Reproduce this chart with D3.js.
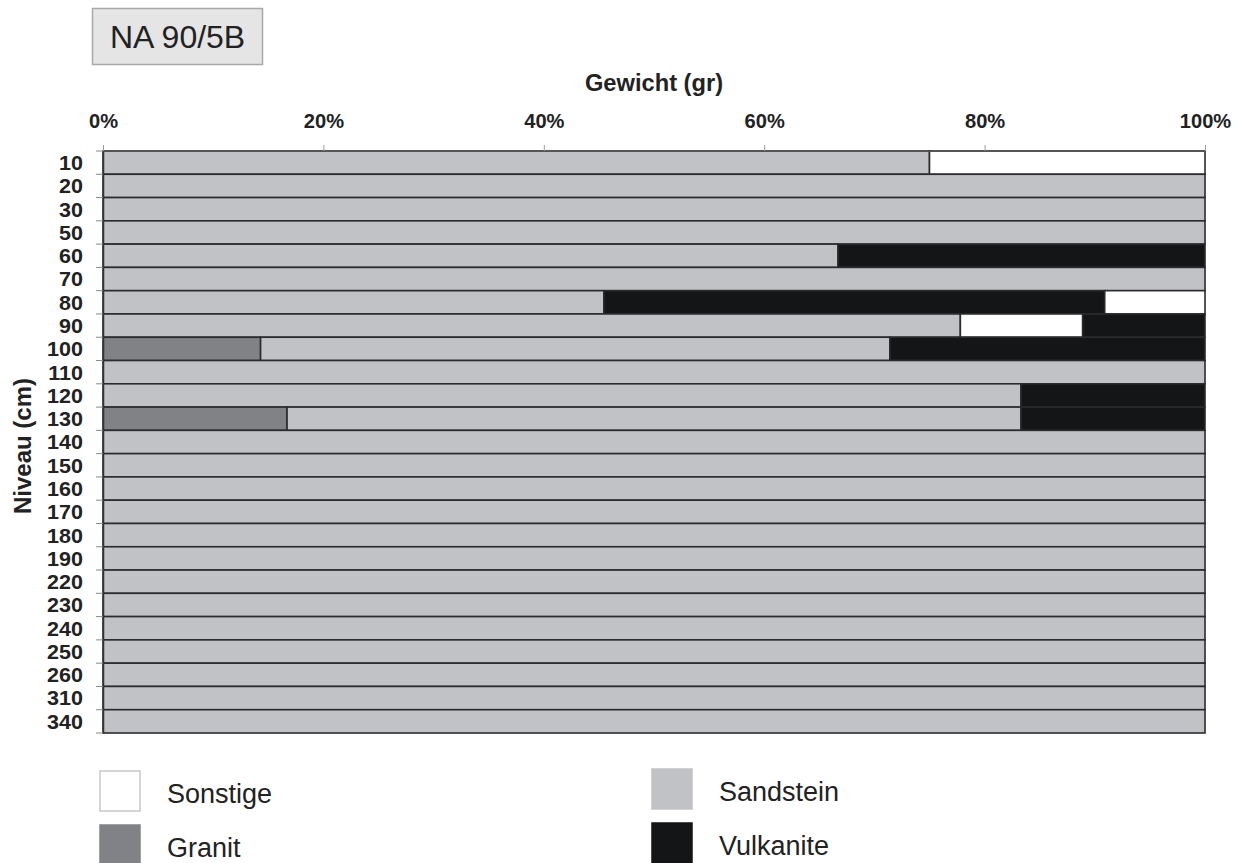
<!DOCTYPE html>
<html><head><meta charset="utf-8">
<script src="https://cdn.jsdelivr.net/npm/d3@7"></script>
<style>body{margin:0;background:#fff;} svg{display:block;font-family:"Liberation Sans",Arial,sans-serif;}</style>
</head><body>
<svg id="c" width="1247" height="863"></svg>
<script>
const levels = ["10","20","30","50","60","70","80","90","100","110","120","130","140","150","160","170","180","190","220","230","240","250","260","310","340"];
const granit    = [0,0,0,0,0,0,0,0,14.3,0,0,16.7,0,0,0,0,0,0,0,0,0,0,0,0,0];
const sandstein = [75,100,100,100,66.7,100,45.45,77.8,57.1,100,83.3,66.6,100,100,100,100,100,100,100,100,100,100,100,100,100];
const vulkanite = [0,0,0,0,33.3,0,45.45,11.1,28.6,0,16.7,16.7,0,0,0,0,0,0,0,0,0,0,0,0,0];
const sonstige  = [25,0,0,0,0,0,9.1,11.1,0,0,0,0,0,0,0,0,0,0,0,0,0,0,0,0,0];
// order of segments from left to right for each level (default unless listed)
const defaultOrder = ["Granit","Sandstein","Vulkanite","Sonstige"];
const specialOrder = {"90":["Granit","Sandstein","Sonstige","Vulkanite"]};
const xTicks = [0,20,40,60,80,100];
const legendItems = ["Sonstige","Granit","Sandstein","Vulkanite"];
const colors = {Granit:"#818285",Sandstein:"#c1c2c5",Vulkanite:"#141517",Sonstige:"#ffffff"};
const seriesData = {Granit:granit,Sandstein:sandstein,Vulkanite:vulkanite,Sonstige:sonstige};

const svg = d3.select("#c");
const m = {left:103,right:1205,top:151,bottom:733};
const x = d3.scaleLinear().domain([0,100]).range([m.left,m.right]);
const y = d3.scaleBand().domain(levels).range([m.top,m.bottom]).padding(0);
const SX = 1.05; // slight horizontal stretch of bold labels

// title box
svg.append("rect").attr("x",92.5).attr("y",8.5).attr("width",170).attr("height",56)
  .attr("fill","#e5e5e5").attr("stroke","#a9a9a9").attr("stroke-width",1.5);
svg.append("text").attr("x",110).attr("y",48).attr("font-size",32).attr("fill","#222").text("NA 90/5B");

// segments
const segs = [];
levels.forEach((lv,i)=>{
  const order = specialOrder[lv] || defaultOrder;
  let acc = 0;
  order.forEach(k=>{
    const v = seriesData[k][i];
    if(v>0){ segs.push({lv,k,x0:acc,x1:acc+v}); acc+=v; }
  });
});
svg.append("g").selectAll("rect").data(segs).join("rect")
  .attr("x",d=>x(d.x0)).attr("y",d=>y(d.lv))
  .attr("width",d=>x(d.x1)-x(d.x0)).attr("height",y.bandwidth())
  .attr("fill",d=>colors[d.k]).attr("stroke","#2a2b2d").attr("stroke-width",1.6);

// top axis
const xa = svg.append("g").attr("transform",`translate(0,${m.top})`)
  .call(d3.axisTop(x).tickValues(xTicks).tickFormat(d=>d+"%").tickSize(6).tickPadding(17));
xa.select(".domain").attr("stroke","#555").attr("stroke-width",1);
xa.selectAll(".tick line").attr("stroke","#999");
xa.selectAll("text").attr("font-size",19.5).attr("font-weight","bold").attr("fill","#222")
  .attr("font-family","Liberation Sans, Arial, sans-serif").attr("transform",`scale(1.03,1)`);
svg.append("text").attr("transform",`translate(${x(50)},91) scale(1.03,1)`).attr("text-anchor","middle")
  .attr("font-size",23).attr("font-weight","bold").attr("fill","#222").text("Gewicht (gr)");

// left axis
const ya = svg.append("g").attr("transform",`translate(${m.left},0)`)
  .call(d3.axisLeft(y).tickSize(0).tickPadding(20));
ya.select(".domain").attr("stroke","#333").attr("stroke-width",1.5);
ya.selectAll("text").attr("font-size",20.5).attr("font-weight","bold").attr("fill","#222")
  .attr("font-family","Liberation Sans, Arial, sans-serif")
  .attr("x",-20/SX).attr("dy","0.36em").attr("transform",`scale(${SX},1)`);
// boundary ticks
const bounds = levels.map(l=>y(l)).concat([m.bottom]);
svg.append("g").selectAll("line").data(bounds).join("line")
  .attr("x1",m.left-7).attr("x2",m.left).attr("y1",d=>d).attr("y2",d=>d)
  .attr("stroke","#888").attr("stroke-width",1);
svg.append("text").attr("transform",`translate(31,446) rotate(-90)`)
  .attr("text-anchor","middle").attr("font-size",24).attr("font-weight","bold").attr("fill","#222")
  .text("Niveau (cm)");

// legend
const lg = [{k:"Sonstige",x:100,y:771,ty:32},{k:"Granit",x:100,y:825,ty:32},{k:"Sandstein",x:652,y:769,ty:32},{k:"Vulkanite",x:652,y:823,ty:32}];
const lgG = svg.append("g").selectAll("g").data(lg).join("g").attr("transform",d=>`translate(${d.x},${d.y})`);
lgG.append("rect").attr("width",40).attr("height",40).attr("fill",d=>colors[d.k])
  .attr("stroke",d=>d.k==="Sonstige"?"#c8c8c8":colors[d.k]).attr("stroke-width",1.5);
lgG.append("text").attr("x",67).attr("y",d=>d.ty).attr("font-size",27).attr("fill","#222").text(d=>d.k);
</script>
</body></html>
